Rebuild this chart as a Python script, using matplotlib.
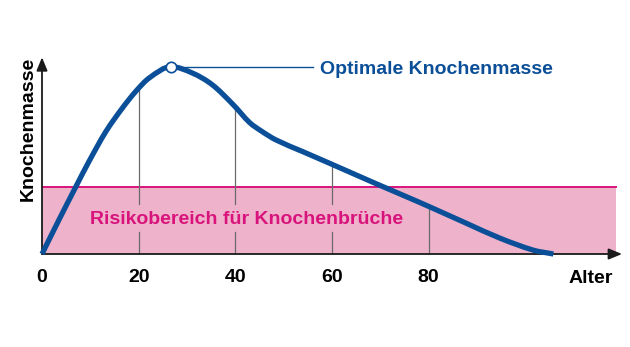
import numpy as np
import matplotlib
matplotlib.use('Agg')
from matplotlib import pyplot as plt
from matplotlib.path import Path
from matplotlib.patches import PathPatch

plt.rcParams['font.family'] = ['Liberation Sans', 'DejaVu Sans']
plt.rcParams['font.weight'] = 'bold'

# Knochenmasse über das Lebensalter (Maximum = 100)
alter = [0, 3.5, 7.0, 9.7, 13.2, 16.6, 19.4, 22.2, 26.7, 31.2, 35.3,
         39.6, 42.9, 45.4, 48.4, 53.9, 59.7, 65.7, 70.5, 76.1, 80.1,
         87.8, 94.8, 101.6, 105.8]
masse = [0, 18.2, 35.9, 49.3, 65.3, 77.8, 86.8, 94.0, 100, 96.5, 90.2,
         79.6, 70.3, 65.6, 60.9, 54.7, 48.2, 41.4, 36.0, 29.8, 25.3,
         16.4, 8.4, 2.1, 0]
spitze_alter = 26.7
spitze_masse = 100
risiko_grenze = 36.0
risiko_ende = 118.8
alter_ticks = [0, 20, 40, 60, 80]

blau = '#0b4f98'
magenta = '#d8147c'
rosa = '#eeb3cb'


def glatter_pfad(xs, ys):
    # kubische Bezier-Segmente durch die Punkte (Hermite-Tangenten)
    xs = np.asarray(xs, float)
    ys = np.asarray(ys, float)
    n = len(xs)
    m = np.zeros(n)
    m[0] = (ys[1] - ys[0]) / (xs[1] - xs[0])
    m[-1] = (ys[-1] - ys[-2]) / (xs[-1] - xs[-2])
    for i in range(1, n - 1):
        m[i] = (ys[i + 1] - ys[i - 1]) / (xs[i + 1] - xs[i - 1])
    m[np.argmax(ys)] = 0
    verts = [(xs[0], ys[0])]
    codes = [Path.MOVETO]
    for i in range(n - 1):
        h = xs[i + 1] - xs[i]
        verts += [(xs[i] + h / 3, ys[i] + m[i] * h / 3),
                  (xs[i + 1] - h / 3, ys[i + 1] - m[i + 1] * h / 3),
                  (xs[i + 1], ys[i + 1])]
        codes += [Path.CURVE4] * 3
    return Path(verts, codes)


fig = plt.figure(figsize=(6.3, 3.47), dpi=100)
ax = fig.add_axes([42 / 630, 93 / 347, 580 / 630, 196.7 / 347])
ax.set_xlim(0, 120)
ax.set_ylim(0, 105)
for s in ax.spines.values():
    s.set_visible(False)
ax.set_yticks([])
ax.set_xticks(alter_ticks)
ax.set_xticklabels([str(t) for t in alter_ticks], fontsize=14, fontweight='bold')
ax.tick_params(axis='x', length=0, pad=11)

# Risikobereich
ax.fill_between([0, risiko_ende], 0, risiko_grenze, color=rosa, lw=0, zorder=1)
ax.plot([0, risiko_ende], [risiko_grenze, risiko_grenze], color=magenta, lw=1.4, zorder=2)
ax.text(42.4, 15.9, 'Risikobereich für Knochenbrüche', color=magenta, fontsize=14,
        fontweight='bold', ha='center', va='baseline', zorder=3)

# Hilfslinien bis zur Kurve, mit Lücke für die Beschriftung
for t in alter_ticks[1:]:
    oben = np.interp(t, alter, masse)
    if t < 70:
        ax.plot([t, t], [0, 11.9], color='#6a6a6a', lw=0.9, zorder=2)
        ax.plot([t, t], [26.7, oben], color='#6a6a6a', lw=0.9, zorder=2)
    else:
        ax.plot([t, t], [0, oben], color='#6a6a6a', lw=0.9, zorder=2)

# Kurve
kurve = PathPatch(glatter_pfad(alter, masse), fill=False, edgecolor=blau, lw=3.8,
                  capstyle='butt', joinstyle='round', zorder=4, clip_on=False)
ax.add_patch(kurve)

# Optimale Knochenmasse
ax.plot([spitze_alter, 56.1], [spitze_masse, spitze_masse], color=blau, lw=1.0, zorder=4)
ax.plot([spitze_alter], [spitze_masse], 'o', ms=7.5, mfc='white', mec=blau, mew=1.2,
        zorder=5, clip_on=False)
ax.text(57.5, 95.9, 'Optimale Knochenmasse', color=blau, fontsize=14,
        fontweight='bold', ha='left', va='baseline')

# Achsen mit Pfeilen
pfeil = dict(arrowstyle='-|>,head_length=0.8,head_width=0.33', lw=1.3, color='#1a1a1a',
             shrinkA=0, shrinkB=0)
ax.annotate('', xy=(120, 0), xytext=(0, 0), arrowprops=pfeil, zorder=3,
            annotation_clip=False)
ax.annotate('', xy=(0, 105), xytext=(0, 0), arrowprops=pfeil, zorder=3,
            annotation_clip=False)

ax.text(113.6, -15.6, 'Alter', fontsize=14, fontweight='bold', ha='center',
        va='baseline', clip_on=False)
ax.text(-1.14, 66.7, 'Knochenmasse', fontsize=14, fontweight='bold', rotation=90,
        ha='right', va='center', clip_on=False)

fig.savefig('out.png', dpi=100)
